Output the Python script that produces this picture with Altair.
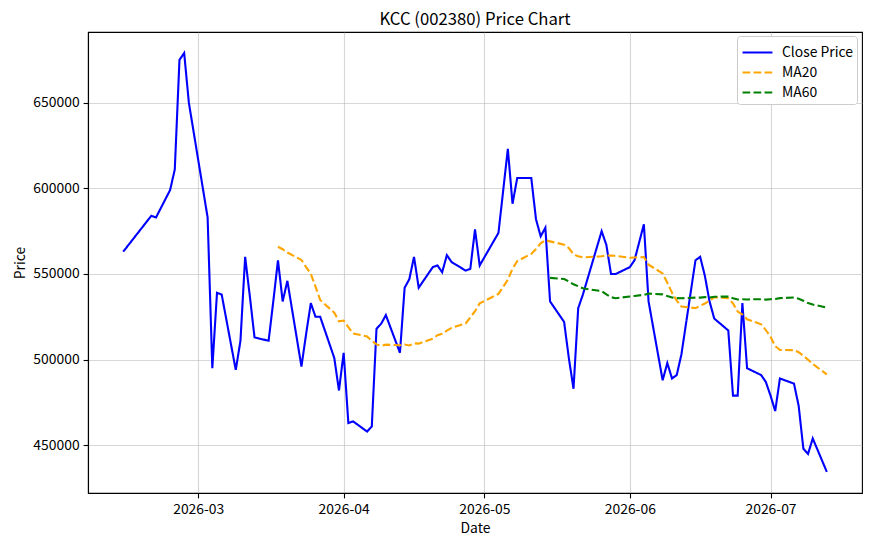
import altair as alt
import pandas as pd

FONT = "Noto Sans CJK KR"

dates = [
    "2026-02-13", "2026-02-19", "2026-02-20", "2026-02-23", "2026-02-24", "2026-02-25", "2026-02-26", "2026-02-27",
    "2026-03-03", "2026-03-04", "2026-03-05", "2026-03-06", "2026-03-09", "2026-03-10", "2026-03-11", "2026-03-12",
    "2026-03-13", "2026-03-16", "2026-03-17", "2026-03-18", "2026-03-19", "2026-03-20", "2026-03-23", "2026-03-24",
    "2026-03-25", "2026-03-26", "2026-03-27", "2026-03-30", "2026-03-31",
    "2026-04-01", "2026-04-02", "2026-04-03", "2026-04-06", "2026-04-07", "2026-04-08", "2026-04-09", "2026-04-10",
    "2026-04-13", "2026-04-14", "2026-04-15", "2026-04-16", "2026-04-17", "2026-04-20", "2026-04-21", "2026-04-22",
    "2026-04-23", "2026-04-24", "2026-04-27", "2026-04-28", "2026-04-29", "2026-04-30",
    "2026-05-04", "2026-05-06", "2026-05-07", "2026-05-08", "2026-05-11", "2026-05-12", "2026-05-13", "2026-05-14",
    "2026-05-15", "2026-05-18", "2026-05-19", "2026-05-20", "2026-05-21", "2026-05-22", "2026-05-26", "2026-05-27",
    "2026-05-28", "2026-05-29",
    "2026-06-01", "2026-06-02", "2026-06-04", "2026-06-05", "2026-06-08", "2026-06-09", "2026-06-10", "2026-06-11",
    "2026-06-12", "2026-06-15", "2026-06-16", "2026-06-17", "2026-06-18", "2026-06-19", "2026-06-22", "2026-06-23",
    "2026-06-24", "2026-06-25", "2026-06-26", "2026-06-29", "2026-06-30",
    "2026-07-01", "2026-07-02", "2026-07-03", "2026-07-06", "2026-07-07", "2026-07-08", "2026-07-09", "2026-07-10",
    "2026-07-13",
]

close = [
    563000, 584000, 583000, 599000, 611000, 675000, 679000, 650000,
    583000, 495000, 539000, 538000, 494000, 511000, 560000, 537000,
    513000, 511000, 534000, 558000, 534000, 546000, 496000, 515000,
    533000, 525000, 525000, 501000, 482000,
    504000, 463000, 464000, 458000, 461000, 518000, 521000, 526000,
    504000, 542000, 547000, 560000, 542000, 554000, 555000, 551000,
    561000, 557000, 552000, 553000, 576000, 555000,
    574000, 623000, 591000, 606000, 606000, 582000, 572000, 577000,
    534000, 522000, 501000, 483000, 530000, 538000, 575000, 567000,
    550000, 550000,
    554000, 558000, 579000, 534000, 488000, 498000, 489000, 491000,
    503000, 558000, 560000, 549000, 534000, 524000, 517000, 479000,
    479000, 533000, 495000, 491000, 487000,
    479000, 470000, 489000, 486000, 473000, 448000, 445000, 454000,
    434500,
]

# MA20 values from 2026-03-18 onward
ma20 = [
    565900, 564450, 562550, 558200, 554000, 550100, 542600, 534850, 527400, 522350,
    522800, 519000, 515300, 513500, 511000, 508900, 508100, 508750, 508400, 508800,
    508250, 509550, 509350, 512250, 514250, 515150, 516950, 518550, 521100, 524650,
    528250, 532850, 538350, 546600, 553100, 557500, 561750, 564550, 567950, 569700,
    569050, 567150, 565100, 561550, 560300, 559650, 560350, 560850, 560750, 560600,
    559500, 559650, 559900, 555450, 550300, 544900, 539050, 534500, 531050, 530100,
    531400, 532750, 534400, 536450, 535800, 532850, 528050, 526350, 523600, 520650,
    517300, 513350, 507900, 505650, 505550, 504300, 502250, 499950, 497500, 491350,
]

# MA60 values from 2026-05-15 onward
ma60 = [
    547730, 547050, 545670, 544000, 542850, 541630, 539970, 538080, 536420, 535870,
    536850, 537170, 537850, 538520, 538130, 537100, 536300, 535930, 535800, 536200,
    536230, 536480, 536280, 536750, 536780, 535880, 535120, 535250, 535150, 535300,
    535020, 535280, 535380, 535900, 536320, 535570, 534350, 533000, 532170, 530380,
]

series_names = ["Close Price", "MA20", "MA60"]
series_colors = ["blue", "orange", "green"]

df = pd.concat([
    pd.DataFrame({"Date": dates, "Price": close, "Series": series_names[0]}),
    pd.DataFrame({"Date": dates[len(dates) - len(ma20):], "Price": ma20, "Series": series_names[1]}),
    pd.DataFrame({"Date": dates[len(dates) - len(ma60):], "Price": ma60, "Series": series_names[2]}),
], ignore_index=True)

month_ticks = [alt.DateTime(year=2026, month=m, date=1, utc=True) for m in [3, 4, 5, 6, 7]]

chart = alt.Chart(df).mark_line(strokeWidth=2.1).encode(
    x=alt.X(
        "Date:T",
        title="Date",
        scale=alt.Scale(
            type="utc",
            domain=[alt.DateTime(year=2026, month=2, date=5, hours=12, utc=True),
                    alt.DateTime(year=2026, month=7, date=20, hours=12, utc=True)],
            nice=False,
        ),
        axis=alt.Axis(values=month_ticks, labelExpr="utcFormat(datum.value, '%Y-%m')"),
    ),
    y=alt.Y(
        "Price:Q",
        title="Price",
        scale=alt.Scale(domain=[422150, 691270], nice=False, zero=False),
        axis=alt.Axis(values=[450000, 500000, 550000, 600000, 650000], format="d"),
    ),
    color=alt.Color(
        "Series:N",
        scale=alt.Scale(domain=series_names, range=series_colors),
        legend=alt.Legend(title=None),
    ),
    strokeDash=alt.StrokeDash(
        "Series:N",
        scale=alt.Scale(domain=series_names, range=[[1, 0], [7.7, 3.3], [7.7, 3.3]]),
        legend=alt.Legend(title=None),
    ),
    order=alt.Order("Date:T"),
).properties(
    width=774,
    height=461,
    title=alt.TitleParams(
        "KCC (002380) Price Chart",
        fontSize=16.7,
        font=FONT,
        fontWeight="normal",
        color="black",
        anchor="middle",
        baseline="bottom",
        offset=5,
        dy=19,
        frame="group",
    ),
    autosize=alt.AutoSizeParams(type="none"),
    padding={"left": 88, "top": 32, "right": 10, "bottom": 53},
).configure_view(
    stroke="black",
    strokeWidth=1.1,
).configure_axis(
    labelFont=FONT,
    titleFont=FONT,
    labelFontSize=13.9,
    titleFontSize=13.9,
    titleFontWeight="normal",
    labelColor="black",
    titleColor="black",
    tickColor="black",
    tickSize=4.9,
    tickWidth=1.1,
    labelPadding=4.9,
    domainColor="black",
    domainWidth=1.1,
    gridColor="#b0b0b0",
    gridOpacity=0.5,
    gridWidth=1.1,
    titlePadding=5,
).configure_axisY(
    labelPadding=4,
).configure_legend(
    orient="none",
    legendX=649,
    legendY=4,
    fillColor="white",
    strokeColor="#cccccc",
    cornerRadius=3,
    padding=4,
    symbolType="M-1.36,0H1.36",
    symbolSize=484,
    symbolOffset=4,
    symbolStrokeWidth=2.1,
    labelFont=FONT,
    labelFontSize=13.9,
    labelColor="black",
    rowPadding=0,
    labelOffset=12,
)

chart.save("out.html", embed_options={"renderer": "svg", "actions": False})
